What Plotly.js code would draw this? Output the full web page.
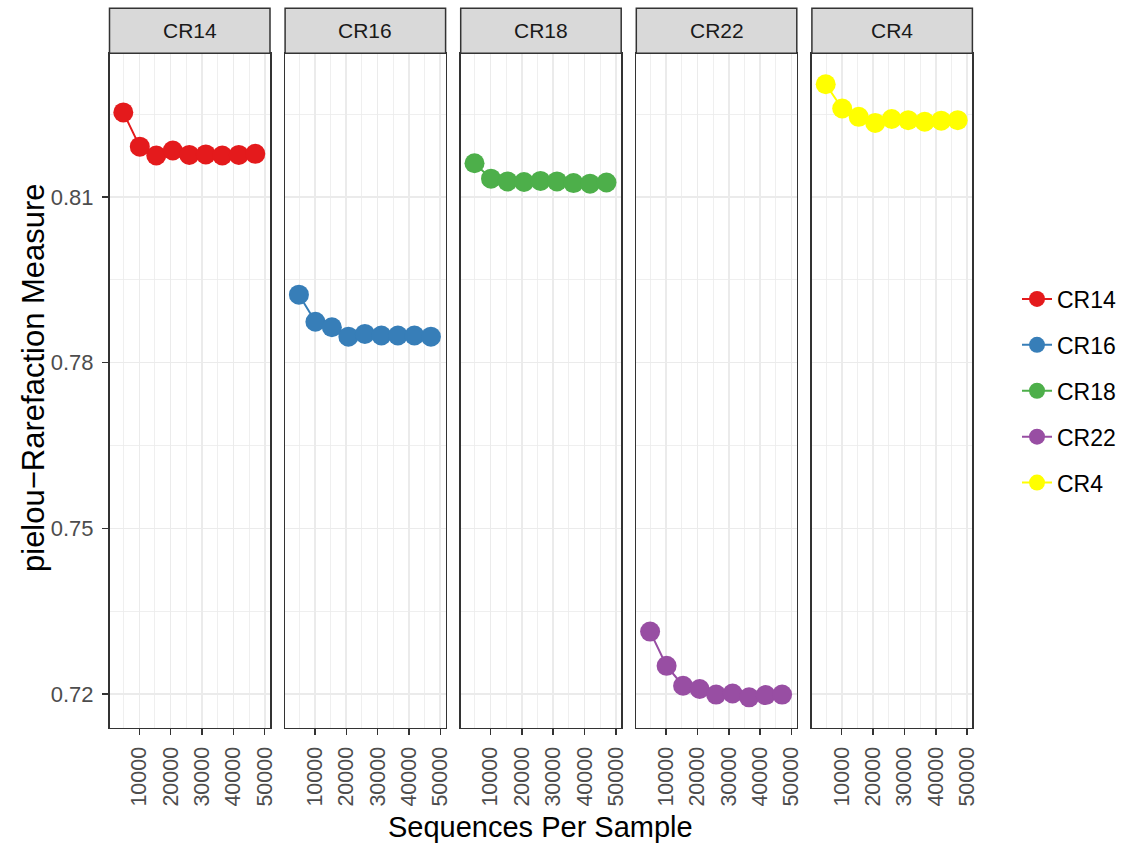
<!DOCTYPE html>
<html>
<head>
<meta charset="utf-8">
<script src="https://cdn.plot.ly/plotly-3.0.1.min.js"></script>
<style>html,body{margin:0;padding:0;background:#fff;}#chart{width:1131px;height:846px;}</style>
</head>
<body>
<div id="chart"></div>
<script>
// ---- data ----
const samples = ['CR14', 'CR16', 'CR18', 'CR22', 'CR4'];
const depths = [4900, 10160, 15420, 20690, 25950, 31210, 36470, 41740, 47000];
const cr14 = [0.8253, 0.8191, 0.8175, 0.8184, 0.8176, 0.8177, 0.8175, 0.8176, 0.8178];
const cr16 = [0.7923, 0.7874, 0.7864, 0.7847, 0.7852, 0.7849, 0.7849, 0.7849, 0.7847];
const cr18 = [0.8161, 0.8133, 0.8128, 0.8127, 0.8129, 0.8128, 0.8125, 0.8124, 0.8126];
const cr22 = [0.7313, 0.7251, 0.7215, 0.7209, 0.7199, 0.7201, 0.7194, 0.7198, 0.7199];
const cr4  = [0.8304, 0.8260, 0.8245, 0.8234, 0.8241, 0.8239, 0.8236, 0.8238, 0.8239];
const seriesValues = [cr14, cr16, cr18, cr22, cr4];
const xTickVals = [10000, 20000, 30000, 40000, 50000];
const xTickText = ['10000', '20000', '30000', '40000', '50000'];
const yTickVals = [0.72, 0.75, 0.78, 0.81];
const yTickText = ['0.72', '0.75', '0.78', '0.81'];

// ---- styling / layout ----
const colors = ['#E41A1C', '#377EB8', '#4DAF4A', '#984EA3', '#FFFF00'];
const W = 1131, H = 846;
const panelLeft = 109.5, panelW = 160.5, panelGap = 15.1;
const plotTop = 53.3, plotBottom = 727.7, stripTop = 8.3;
const xRange = [494, 51690];
const yRange = [0.7139, 0.8360];
const font = 'Liberation Sans, Arial, Helvetica, sans-serif';

const traces = [];
const layout = {
  width: W, height: H,
  margin: {l: 0, r: 0, t: 0, b: 0},
  paper_bgcolor: '#ffffff',
  plot_bgcolor: '#ffffff',
  font: {family: font, color: '#000'},
  showlegend: true,
  legend: {
    x: 1017 / W, y: (H - 391) / H, xanchor: 'left', yanchor: 'middle',
    font: {size: 23, color: '#000', family: font},
    tracegroupgap: 13, bgcolor: 'rgba(0,0,0,0)'
  },
  shapes: [],
  annotations: []
};

samples.forEach((name, i) => {
  const k = i === 0 ? '' : String(i + 1);
  const x0 = (panelLeft + i * (panelW + panelGap)) / W;
  const x1 = (panelLeft + i * (panelW + panelGap) + panelW) / W;
  traces.push({
    type: 'scatter', mode: 'lines+markers', name: name,
    x: depths, y: seriesValues[i],
    xaxis: 'x' + k, yaxis: 'y' + k,
    legendgroup: name,
    line: {color: colors[i], width: 2},
    marker: {color: colors[i], size: 20},
    cliponaxis: false
  });
  layout['xaxis' + k] = {
    domain: [x0, x1], anchor: 'y' + k, range: xRange,
    tickmode: 'array', tickvals: xTickVals, ticktext: xTickText,
    tickangle: -90, ticks: 'outside', ticklen: 6, tickwidth: 1.5, tickcolor: '#333333',
    tickfont: {size: 21.5, color: '#4D4D4D', family: font},
    ticklabelstandoff: 3,
    showgrid: true, gridcolor: '#EBEBEB', gridwidth: 1.6,
    minor: {dtick: 5000, tick0: 0, showgrid: true, gridcolor: '#EBEBEB', gridwidth: 0.8, ticks: ''},
    showline: true, mirror: true, linecolor: '#333333', linewidth: 1.5,
    zeroline: false, fixedrange: true
  };
  layout['yaxis' + k] = {
    domain: [(H - plotBottom) / H, (H - plotTop) / H], anchor: 'x' + k, range: yRange,
    tickmode: 'array', tickvals: yTickVals, ticktext: yTickText,
    showticklabels: i === 0, ticks: i === 0 ? 'outside' : '',
    ticklen: 6, tickwidth: 1.5, tickcolor: '#333333',
    tickfont: {size: 22, color: '#4D4D4D', family: font},
    ticklabelstandoff: 4,
    showgrid: true, gridcolor: '#EBEBEB', gridwidth: 1.6,
    minor: {tickvals: [0.735, 0.765, 0.795, 0.825], showgrid: true, gridcolor: '#EBEBEB', gridwidth: 0.8, ticks: ''},
    showline: true, mirror: true, linecolor: '#333333', linewidth: 1.5,
    zeroline: false, fixedrange: true
  };
  // facet strip
  layout.shapes.push({
    type: 'rect', xref: 'paper', yref: 'paper',
    x0: x0, x1: x1, y0: (H - plotTop) / H, y1: (H - stripTop) / H,
    fillcolor: '#D9D9D9', line: {color: '#333333', width: 1.5}, layer: 'above'
  });
  layout.annotations.push({
    xref: 'paper', yref: 'paper', x: (x0 + x1) / 2, y: (H - (plotTop + stripTop) / 2) / H,
    text: name, showarrow: false, xanchor: 'center', yanchor: 'middle',
    font: {size: 21, color: '#1A1A1A', family: font}
  });
});

layout.annotations.push({
  xref: 'paper', yref: 'paper', x: 540 / W, y: (H - 827) / H,
  text: 'Sequences Per Sample', showarrow: false, xanchor: 'center', yanchor: 'middle',
  font: {size: 29, color: '#000', family: font}
});
layout.annotations.push({
  xref: 'paper', yref: 'paper', x: 33 / W, y: (H - 378) / H,
  text: 'pielou\u2212Rarefaction Measure', showarrow: false, textangle: -90,
  xanchor: 'center', yanchor: 'middle',
  font: {size: 31, color: '#000', family: font}
});

Plotly.newPlot('chart', traces, layout, {displayModeBar: false, staticPlot: true});
</script>
</body>
</html>
